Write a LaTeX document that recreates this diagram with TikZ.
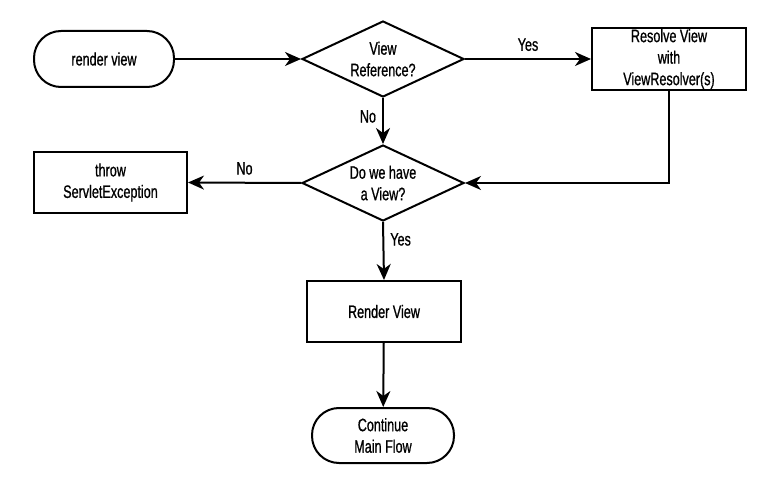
\documentclass[tikz,border=0pt]{standalone}
\usepackage{fontspec}
\setmainfont{Liberation Sans}[FakeStretch=0.70, FakeBold=0.8]
\usetikzlibrary{shapes.geometric,arrows.meta,positioning}
\begin{document}
\begin{tikzpicture}[x=1pt,y=-1pt,
  every node/.style={font=\fontsize{18}{21.5}\selectfont, align=center, inner sep=0pt},
  terminal/.style={draw, line width=2pt, rounded corners=27pt, minimum width=140pt, minimum height=56pt},
  procbox/.style={draw, line width=2pt, minimum width=154pt, minimum height=61pt},
  decision/.style={draw, line width=2pt, diamond, aspect=2.1, minimum width=162pt, minimum height=76pt},
  conn/.style={line width=2pt, -{Stealth[length=16pt, width=14pt, inset=5pt]}},
  lbl/.style={font=\fontsize{18}{21.5}\selectfont}]
\useasboundingbox (0,0) rectangle (758,481);
\node[terminal] (start) at (104,59) {render view};
\node[decision] (ref) at (383,59) {View\\Reference?};
\node[procbox, minimum height=62pt] (resolve) at (669,59) {Resolve View\\with\\ViewResolver(s)};
\node[decision] (have) at (383,183) {Do we have\\a View?};
\node[procbox, minimum width=153pt] (throw) at (110.5,182.5) {throw\\ServletException};
\node[procbox] (render) at (384,311.5) {Render View};
\node[terminal, minimum width=142pt, minimum height=55pt] (cont) at (383,435.5) {Continue\\Main Flow};
\coordinate (bend) at (669,183);
\draw[conn] (start) -- (ref.west);
\draw[conn] (ref.east) -- node[lbl, above=7pt] {Yes} (resolve.west);
\draw[conn] (ref.south) -- node[lbl, left=6pt, pos=0.4] {No} (have.north);
\draw[conn] (resolve.south) -- (bend) -- (have.east);
\draw[conn] (have.west) -- node[lbl, above=7pt] {No} (throw.east);
\draw[conn] (have.south) -- node[lbl, right=6pt, pos=0.3] {Yes} (render.north);
\draw[conn] (render) -- (cont);
\end{tikzpicture}
\end{document}
